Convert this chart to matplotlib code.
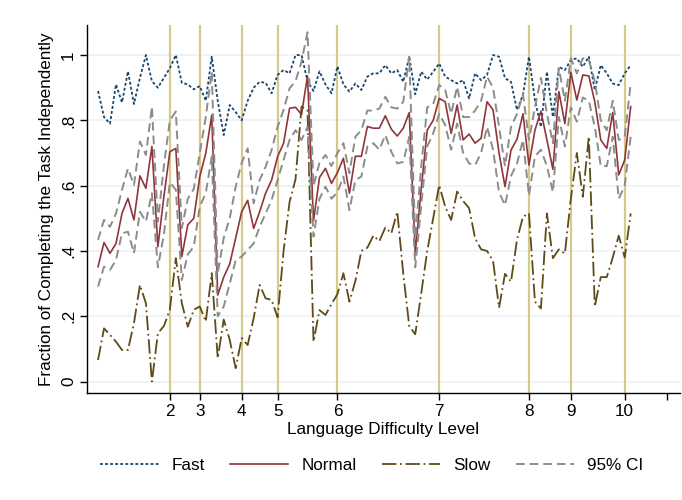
import numpy as np
import matplotlib
matplotlib.use("Agg")
import matplotlib.pyplot as plt

plt.rcParams['font.family'] = ['Liberation Sans', 'DejaVu Sans']

task = list(range(1, 91))

fast = [0.89, 0.81, 0.79, 0.91, 0.855, 0.95, 0.85, 0.93, 1.0, 0.92,
        0.90, 0.93, 0.96, 1.0, 0.915, 0.91, 0.895, 0.905, 0.86, 0.995,
        0.86, 0.755, 0.847, 0.825, 0.80, 0.86, 0.90, 0.918, 0.915, 0.883,
        0.939, 0.954, 0.944, 1.0, 1.0, 0.92, 0.89, 0.95, 0.91, 0.883,
        0.965, 0.91, 0.888, 0.913, 0.893, 0.934, 0.944, 0.944, 0.969, 0.944,
        0.954, 0.918, 0.995, 0.88, 0.949, 0.925, 0.949, 0.974, 0.934, 0.923,
        0.913, 0.923, 0.867, 0.944, 0.923, 0.939, 1.0, 0.995, 0.929, 0.918,
        0.832, 0.878, 0.995, 0.862, 0.78, 0.949, 0.811, 0.964, 0.954, 0.985,
        0.99, 0.964, 0.995, 0.893, 0.969, 0.944, 0.913, 0.908, 0.944, 0.969]

normal = [0.352, 0.426, 0.393, 0.423, 0.515, 0.561, 0.495, 0.63, 0.592, 0.72,
          0.413, 0.566, 0.704, 0.714, 0.383, 0.48, 0.50, 0.628, 0.699, 0.816,
          0.265, 0.32, 0.36, 0.44, 0.52, 0.555, 0.469, 0.52, 0.577, 0.617,
          0.689, 0.73, 0.837, 0.84, 0.818, 0.936, 0.492, 0.625, 0.653, 0.607,
          0.64, 0.684, 0.577, 0.69, 0.69, 0.781, 0.776, 0.776, 0.814, 0.773,
          0.752, 0.776, 0.824, 0.393, 0.59, 0.77, 0.80, 0.867, 0.857, 0.76,
          0.847, 0.74, 0.758, 0.73, 0.745, 0.857, 0.832, 0.70, 0.597, 0.709,
          0.742, 0.82, 0.663, 0.77, 0.828, 0.74, 0.65, 0.888, 0.79, 0.947,
          0.862, 0.939, 0.936, 0.857, 0.74, 0.714, 0.824, 0.633, 0.679, 0.842]

slow = [0.066, 0.163, 0.143, 0.122, 0.097, 0.097, 0.179, 0.296, 0.24, 0.0,
        0.148, 0.17, 0.22, 0.378, 0.24, 0.168, 0.22, 0.23, 0.184, 0.332,
        0.071, 0.19, 0.128, 0.041, 0.133, 0.112, 0.194, 0.296, 0.255, 0.25,
        0.197, 0.40, 0.55, 0.62, 0.842, 0.83, 0.122, 0.219, 0.204, 0.237,
        0.268, 0.332, 0.245, 0.308, 0.40, 0.41, 0.447, 0.43, 0.472, 0.454,
        0.52, 0.33, 0.17, 0.145, 0.27, 0.40, 0.50, 0.602, 0.536, 0.495,
        0.582, 0.553, 0.531, 0.439, 0.405, 0.40, 0.37, 0.226, 0.33, 0.306,
        0.434, 0.505, 0.515, 0.245, 0.224, 0.515, 0.378, 0.405, 0.392, 0.56,
        0.70, 0.566, 0.75, 0.23, 0.32, 0.32, 0.38, 0.447, 0.38, 0.515]

ci_upper = [0.434, 0.495, 0.474, 0.515, 0.587, 0.653, 0.602, 0.735, 0.694, 0.842,
            0.49, 0.66, 0.80, 0.827, 0.47, 0.56, 0.59, 0.70, 0.81, 0.949,
            0.33, 0.44, 0.50, 0.597, 0.67, 0.714, 0.546, 0.617, 0.658, 0.709,
            0.78, 0.832, 0.898, 0.92, 0.98, 1.07, 0.60, 0.67, 0.694, 0.66,
            0.70, 0.73, 0.638, 0.75, 0.77, 0.83, 0.83, 0.836, 0.872, 0.84,
            0.836, 0.857, 0.995, 0.44, 0.66, 0.84, 0.85, 0.908, 0.893, 0.82,
            0.903, 0.81, 0.81, 0.83, 0.86, 0.934, 0.90, 0.78, 0.66, 0.78,
            0.82, 0.88, 0.74, 0.84, 0.93, 0.82, 0.73, 0.96, 0.86, 0.99,
            0.944, 0.99, 0.985, 0.92, 0.80, 0.77, 0.86, 0.74, 0.75, 0.913]

ci_lower = [0.291, 0.352, 0.342, 0.372, 0.454, 0.459, 0.393, 0.52, 0.49, 0.577,
            0.35, 0.45, 0.61, 0.587, 0.311, 0.39, 0.413, 0.536, 0.577, 0.689,
            0.20, 0.23, 0.30, 0.372, 0.383, 0.403, 0.423, 0.474, 0.515, 0.556,
            0.617, 0.679, 0.74, 0.77, 0.74, 0.78, 0.444, 0.56, 0.597, 0.56,
            0.58, 0.628, 0.525, 0.617, 0.628, 0.72, 0.73, 0.71, 0.755, 0.704,
            0.668, 0.673, 0.75, 0.35, 0.54, 0.72, 0.76, 0.82, 0.786, 0.71,
            0.79, 0.70, 0.668, 0.663, 0.70, 0.78, 0.71, 0.58, 0.54, 0.63,
            0.668, 0.74, 0.57, 0.69, 0.71, 0.66, 0.58, 0.81, 0.72, 0.84,
            0.796, 0.87, 0.86, 0.78, 0.66, 0.66, 0.75, 0.56, 0.60, 0.75]

level_pos = [13, 18, 25, 31, 41, 58, 73, 80, 89, 96]
level_labels = ["2", "3", "4", "5", "6", "7", "8", "9", "10", ""]
ytick_vals = [0, 0.2, 0.4, 0.6, 0.8, 1.0]
ytick_labels = ["0", ".2", ".4", ".6", ".8", "1"]

FS = 12.3

fig = plt.figure(figsize=(6.82, 5.0), dpi=100)
ax = fig.add_axes([0.1276, 0.2146, 0.8695, 0.7354])

for yv in ytick_vals:
    ax.axhline(yv, color='#eaf2f3', lw=1.2, zorder=0)
for xp, lab in zip(level_pos, level_labels):
    if lab:
        ax.axvline(xp, color='#d6c98c', lw=1.6, zorder=1)

ax.plot(task, fast, color='#1a476f', lw=1.3, ls=(0, (1.6, 1.2)), label='Fast', zorder=3)
ax.plot(task, normal, color='#90353b', lw=1.2, ls='-', label='Normal', zorder=3)
ax.plot(task, slow, color='#5e4b17', lw=1.3, ls=(0, (8, 2, 1, 2)), label='Slow', zorder=3)
ax.plot(task, ci_upper, color='#8c8c8c', lw=1.4, ls=(0, (4.5, 2.5)), label='95% CI', zorder=4)
ax.plot(task, ci_lower, color='#8c8c8c', lw=1.4, ls=(0, (4.5, 2.5)), zorder=4)

ax.set_xlim(-0.84, 98.24)
ax.set_ylim(-0.034, 1.092)
ax.set_xticks(level_pos)
ax.set_xticklabels(level_labels, fontsize=FS)
ax.set_yticks(ytick_vals)
ax.set_yticklabels(ytick_labels, fontsize=FS, rotation=90, va='center')
ax.tick_params(axis='both', length=5, width=1, color='black', pad=3)
for s in ['top', 'right']:
    ax.spines[s].set_visible(False)
for s in ['left', 'bottom']:
    ax.spines[s].set_linewidth(1.0)

ax.set_xlabel("Language Difficulty Level", fontsize=FS, labelpad=2)
ax.set_ylabel("Fraction of Completing the Task Independently", fontsize=FS, labelpad=5)

fig.legend(loc='center', bbox_to_anchor=(0.545, 0.07), ncol=4, frameon=False,
           fontsize=FS, handlelength=3.4, handletextpad=0.75, columnspacing=1.5)

fig.savefig("out.png", dpi=100)
